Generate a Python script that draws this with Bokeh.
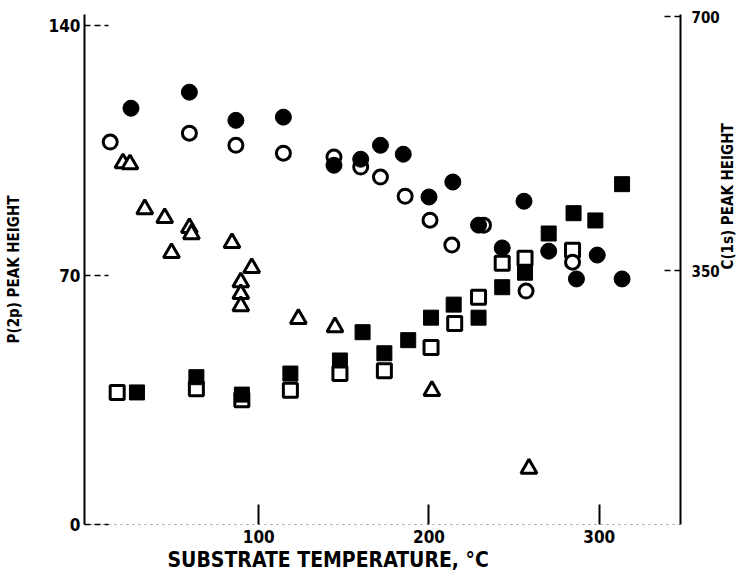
import math
from bokeh.plotting import figure
from bokeh.models import Range1d, LinearAxis, FixedTicker, Title
from bokeh.embed import file_html
from bokeh.resources import INLINE

# ---- data (substrate temperature in deg C) ----
# P(2p) peak height, filled circles
p_fill_temp = [25.0, 59.3, 86.6, 114.5, 144.2, 159.9, 171.5, 184.9, 200.0, 214.0,
               229.1, 243.0, 255.8, 270.3, 286.6, 298.8, 313.4]
p_fill_height = [116.8, 121.3, 113.4, 114.3, 100.8, 102.5, 106.4, 103.9, 91.9, 96.1,
                 84.0, 77.6, 90.7, 76.7, 68.9, 75.6, 68.9]
# P(2p) peak height, open circles
p_open_temp = [12.8, 59.3, 86.6, 114.5, 144.2, 159.9, 171.5, 186.0, 200.6, 213.4,
               232.0, 257.0, 284.3]
p_open_height = [107.3, 109.8, 106.4, 104.2, 103.1, 100.3, 97.5, 92.1, 85.4, 78.4,
                 84.0, 65.5, 73.6]
# P(2p) peak height, open triangles
p_tri_temp = [20.3, 24.4, 33.1, 44.8, 48.8, 59.3, 60.5, 84.3, 95.9, 89.5, 89.5, 89.5,
              123.3, 144.8, 201.7, 258.7]
p_tri_height = [101.4, 101.1, 88.5, 86.0, 76.2, 83.2, 81.5, 79.0, 72.0, 68.0, 64.7, 61.3,
                57.7, 55.4, 37.5, 15.7]
# C(1s) peak height, filled squares
c_fill_temp = [28.5, 63.4, 90.1, 118.6, 147.7, 161.0, 173.8, 187.8, 201.2, 214.5,
               229.1, 243.0, 256.4, 270.3, 284.9, 297.7, 313.4]
c_fill_height = [182, 203, 179, 208, 226, 265, 236, 254, 285, 303,
                 285, 327, 347, 401, 429, 419, 469]
# C(1s) peak height, open squares
c_open_temp = [16.9, 63.4, 90.1, 118.6, 147.7, 173.8, 201.2, 215.1, 229.1, 243.0,
               256.4, 284.3]
c_open_height = [182, 187, 172, 185, 208, 212, 244, 277, 313, 360, 367, 378]

x_ticks = [100, 200, 300]
left_ticks = [0, 70, 140]
right_ticks = [350, 700]

FONT = "DejaVu Sans Condensed, Liberation Sans, sans-serif"

p = figure(width=748, height=576, output_backend="svg", toolbar_location=None,
           x_range=Range1d(-2.3, 347.7), y_range=Range1d(0, 143.1),
           min_border_left=84, min_border_right=62, min_border_top=14,
           min_border_bottom=52)
p.extra_y_ranges = {"c1s": Range1d(0, 702.8)}
p.outline_line_color = None
p.xgrid.visible = False
p.ygrid.visible = False
p.background_fill_color = "white"
p.border_fill_color = "white"

# bottom axis
xa = p.xaxis[0]
xa.ticker = FixedTicker(ticks=x_ticks)
xa.axis_line_color = "#9a9a9a"
xa.axis_line_dash = "dotted"
xa.axis_line_width = 1
xa.major_tick_in = 20
xa.major_tick_out = 0
xa.major_tick_line_width = 2
xa.major_tick_line_color = "black"
xa.minor_tick_line_color = None
xa.major_label_standoff = 5
xa.major_label_text_font = FONT
xa.major_label_text_font_style = "bold"
xa.major_label_text_font_size = "17px"
xa.major_label_text_color = "black"

# x-axis title, placed under the axis
p.add_layout(Title(text="SUBSTRATE TEMPERATURE, \u00b0C", align="left", offset=83,
                   standoff=0, text_font=FONT, text_font_style="bold",
                   text_font_size="21px", text_color="black"), "below")

# left axis
ya = p.yaxis[0]
ya.ticker = FixedTicker(ticks=left_ticks)
ya.axis_line_width = 2
ya.axis_line_color = "black"
ya.major_tick_in = 24
ya.major_tick_out = 0
ya.major_tick_line_dash = "6 4"
ya.major_tick_line_width = 1.5
ya.minor_tick_line_color = None
ya.major_label_standoff = 4
ya.major_label_text_font = FONT
ya.major_label_text_font_style = "bold"
ya.major_label_text_font_size = "17px"
ya.major_label_text_color = "black"
ya.axis_label = "P(2p) PEAK HEIGHT"
ya.axis_label_text_font = FONT
ya.axis_label_text_font_style = "bold"
ya.axis_label_text_font_size = "15px"
ya.axis_label_text_color = "black"
ya.axis_label_text_baseline = "bottom"
ya.axis_label_standoff = 23

# right axis
ra = LinearAxis(y_range_name="c1s", ticker=FixedTicker(ticks=right_ticks))
ra.axis_line_width = 2
ra.axis_line_color = "black"
ra.major_tick_in = 20
ra.major_tick_out = 0
ra.major_tick_line_dash = "6 4"
ra.major_tick_line_width = 1.5
ra.minor_tick_line_color = None
ra.major_label_standoff = 11
ra.major_label_text_font = FONT
ra.major_label_text_font_style = "bold"
ra.major_label_text_font_size = "15px"
ra.major_label_text_color = "black"
ra.axis_label = "C(1s) PEAK HEIGHT"
ra.axis_label_text_font = FONT
ra.axis_label_text_font_style = "bold"
ra.axis_label_text_font_size = "15px"
ra.axis_label_text_color = "black"
ra.axis_label_text_baseline = "top"
ra.axis_label_standoff = 5
ra.axis_label_orientation = math.pi / 2
p.add_layout(ra, "right")

# markers: open first (white fill), filled on top
p.scatter(c_open_temp, c_open_height, y_range_name="c1s", marker="square", size=14,
          fill_color="white", line_color="black", line_width=3)
p.scatter(p_open_temp, p_open_height, marker="circle", size=14,
          fill_color="white", line_color="black", line_width=3)
p.scatter(p_tri_temp, p_tri_height, marker="triangle", size=16,
          fill_color="white", line_color="black", line_width=3)
p.scatter(c_fill_temp, c_fill_height, y_range_name="c1s", marker="square", size=15,
          fill_color="black", line_color="black", line_width=1)
p.scatter(p_fill_temp, p_fill_height, marker="circle", size=16,
          fill_color="black", line_color="black", line_width=1)

open("out.html", "w").write(file_html(p, INLINE))
